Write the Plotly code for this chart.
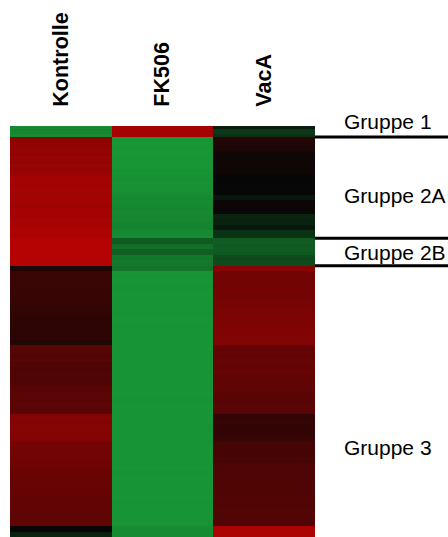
import plotly.graph_objects as go

# Treatment columns
conditions = ["Kontrolle", "FK506", "VacA"]

# Gene clusters (name, number of genes), top to bottom
group_names = ["Gruppe 1", "Gruppe 2A", "Gruppe 2B", "Gruppe 3"]
group_sizes = [4, 37, 10, 99]

# Relative expression (log ratio, -1 = green / down, +1 = red / up), one value per gene
kontrolle = [
    -0.90, -0.86, -0.88, -0.92,
    0.76, 0.74, 0.78, 0.77, 0.79,
    0.80, 0.78, 0.81, 0.79, 0.80, 0.82, 0.80, 0.81, 0.83,
    0.88, 0.87, 0.89, 0.86, 0.88, 0.90, 0.87, 0.86, 0.88, 0.89, 0.87, 0.85,
    0.88, 0.90, 0.89, 0.87, 0.91, 0.90, 0.92, 0.91, 0.93, 0.92, 0.94,
    0.97, 0.98, 0.97, 0.98, 0.97, 0.98, 0.97, 0.98, 0.97, 0.96,
    0.14, 0.15,
    0.30, 0.29, 0.30, 0.28, 0.29, 0.30, 0.29, 0.28, 0.27, 0.28, 0.26, 0.27, 0.25, 0.26, 0.25, 0.24,
    0.22, 0.21, 0.22, 0.23, 0.22, 0.21, 0.22, 0.21, 0.22,
    0.17, 0.16,
    0.46, 0.44, 0.45, 0.42, 0.43, 0.45, 0.41, 0.42, 0.40, 0.41, 0.43, 0.42, 0.40, 0.41, 0.43, 0.45, 0.46,
    0.48, 0.47, 0.48, 0.47, 0.49, 0.48, 0.47, 0.48,
    0.70, 0.71, 0.69, 0.70, 0.72, 0.71, 0.70, 0.69, 0.71, 0.70,
    0.63, 0.62, 0.61, 0.62, 0.60, 0.61, 0.60, 0.59, 0.58, 0.59, 0.57,
    0.56, 0.55, 0.56, 0.54, 0.55, 0.54, 0.53, 0.54, 0.53, 0.52,
    0.53, 0.52, 0.51, 0.52, 0.51, 0.50, 0.51, 0.50, 0.52, 0.51,
    0.03, 0.02,
    -0.18, -0.20,
]

fk506 = [
    0.89, 0.90, 0.88, 0.89,
    -0.99, -0.98, -0.99, -0.97, -0.98, -0.99, -0.98, -0.97, -0.98, -0.99, -0.98, -0.97, -0.96, -0.97,
    -0.95, -0.94, -0.96, -0.95, -0.94, -0.95, -0.93,
    -0.90, -0.89, -0.91, -0.90, -0.89, -0.88, -0.90, -0.89, -0.88, -0.89,
    -0.86, -0.85, -0.86,
    -0.90, -0.91, -0.92,
    -0.58, -0.57, -0.70, -0.72, -0.61, -0.60, -0.78, -0.77, -0.79, -0.78,
    -0.74, -0.76,
    -0.97, -0.96, -0.97, -0.98, -0.97, -0.96, -0.97, -0.97, -0.98, -0.97,
    -0.96, -0.97, -0.97, -0.98, -0.97, -0.96, -0.97, -0.98, -0.97, -0.97,
    -0.96, -0.97, -0.98, -0.97, -0.97, -0.96, -0.97, -0.97, -0.98, -0.97,
    -0.97, -0.96, -0.97, -0.98, -0.97, -0.97, -0.96, -0.97, -0.97, -0.98,
    -0.97, -0.96, -0.97, -0.97, -0.98, -0.97, -0.96, -0.97, -0.97, -0.98,
    -0.97, -0.97, -0.96, -0.97, -0.98, -0.97, -0.97, -0.96, -0.97, -0.97,
    -0.98, -0.97, -0.96, -0.97, -0.97, -0.98, -0.97, -0.97, -0.96, -0.97,
    -0.97, -0.98, -0.97, -0.96, -0.97, -0.97, -0.98, -0.97, -0.97, -0.96,
    -0.97, -0.97, -0.98, -0.97, -0.96, -0.97, -0.97, -0.96, -0.97, -0.97,
    -0.96, -0.97, -0.97,
    -0.92, -0.91, -0.90, -0.91,
]

vaca = [
    -0.16, -0.33, -0.35, -0.30,
    0.19, 0.18, 0.15, 0.14, 0.13,
    0.07, 0.06, 0.05, 0.06, 0.04, 0.05, 0.06, 0.05, 0.04,
    0.00, -0.01, 0.00, 0.01, 0.00, -0.01, 0.00,
    -0.12, -0.11,
    0.04, 0.05, 0.04, 0.03, 0.04,
    -0.20, -0.21, -0.19, -0.20,
    -0.13, -0.12,
    -0.30, -0.29, -0.31,
    -0.58, -0.60, -0.57, -0.59, -0.58, -0.56, -0.47, -0.46, -0.48, -0.47,
    0.72, 0.73,
    0.61, 0.60, 0.62, 0.61, 0.60, 0.61, 0.62, 0.61, 0.60, 0.61, 0.62,
    0.64, 0.63, 0.65, 0.64, 0.66, 0.65, 0.67, 0.66, 0.68, 0.67, 0.68, 0.69, 0.68, 0.70, 0.69, 0.68,
    0.54, 0.53, 0.54, 0.52, 0.53, 0.55, 0.54, 0.53, 0.52, 0.54, 0.53, 0.52, 0.51, 0.52, 0.50, 0.51, 0.50,
    0.47, 0.48, 0.47, 0.46, 0.47, 0.48, 0.47, 0.46,
    0.25, 0.24, 0.25, 0.26, 0.24, 0.25, 0.24, 0.25, 0.26, 0.27,
    0.36, 0.35, 0.37, 0.36, 0.35, 0.37, 0.38, 0.36,
    0.40, 0.41, 0.40, 0.42, 0.41, 0.40, 0.41, 0.42, 0.41, 0.40, 0.42, 0.41,
    0.42, 0.43, 0.42, 0.41, 0.42, 0.43, 0.42, 0.41, 0.42, 0.43, 0.42,
    0.92, 0.93, 0.92, 0.93,
]

# Vertical position (paper fraction) of each cluster label
group_label_y = [1.010, 0.832, 0.693, 0.217]

n_genes = sum(group_sizes)
genes = list(range(n_genes))
z = [[kontrolle[i], fk506[i], vaca[i]] for i in genes]

W, H = 448, 537
M_L, M_R, M_T, M_B = 10, 133, 126, 0

fig = go.Figure(
    go.Heatmap(
        z=z,
        x=conditions,
        y=genes,
        zmin=-1,
        zmax=1,
        colorscale=[
            [0.0, "rgb(24,152,54)"],
            [0.5, "rgb(6,6,6)"],
            [1.0, "rgb(185,3,3)"],
        ],
        showscale=False,
        hoverinfo="skip",
    )
)

# Separator lines between clusters, drawn to the right of the heat map
shapes = []
boundary = -0.5
for size in group_sizes[:-1]:
    boundary += size
    shapes.append(
        dict(
            type="line",
            xref="paper",
            yref="y",
            x0=1.0,
            x1=1.45,
            y0=boundary,
            y1=boundary,
            line=dict(color="black", width=3),
        )
    )

annotations = [
    dict(
        text=name,
        xref="paper",
        yref="paper",
        x=1.091,
        y=ly,
        xanchor="left",
        yanchor="middle",
        showarrow=False,
        borderpad=0,
        font=dict(family="Liberation Sans, Arial, sans-serif", size=21, color="black"),
    )
    for name, ly in zip(group_names, group_label_y)
]

fig.update_layout(
    width=W,
    height=H,
    margin=dict(l=M_L, r=M_R, t=M_T, b=M_B, pad=0),
    paper_bgcolor="white",
    plot_bgcolor="white",
    shapes=shapes,
    annotations=annotations,
    xaxis=dict(
        side="top",
        tickangle=-90,
        ticks="outside",
        ticklen=14,
        tickcolor="rgba(0,0,0,0)",
        tickfont=dict(family="Liberation Sans, Arial, sans-serif", size=21.5,
                      color="black", weight="bold"),
        showgrid=False,
        zeroline=False,
        showline=False,
    ),
    yaxis=dict(
        autorange="reversed",
        showticklabels=False,
        ticks="",
        showgrid=False,
        zeroline=False,
        showline=False,
    ),
)

fig.write_html("out.html")
